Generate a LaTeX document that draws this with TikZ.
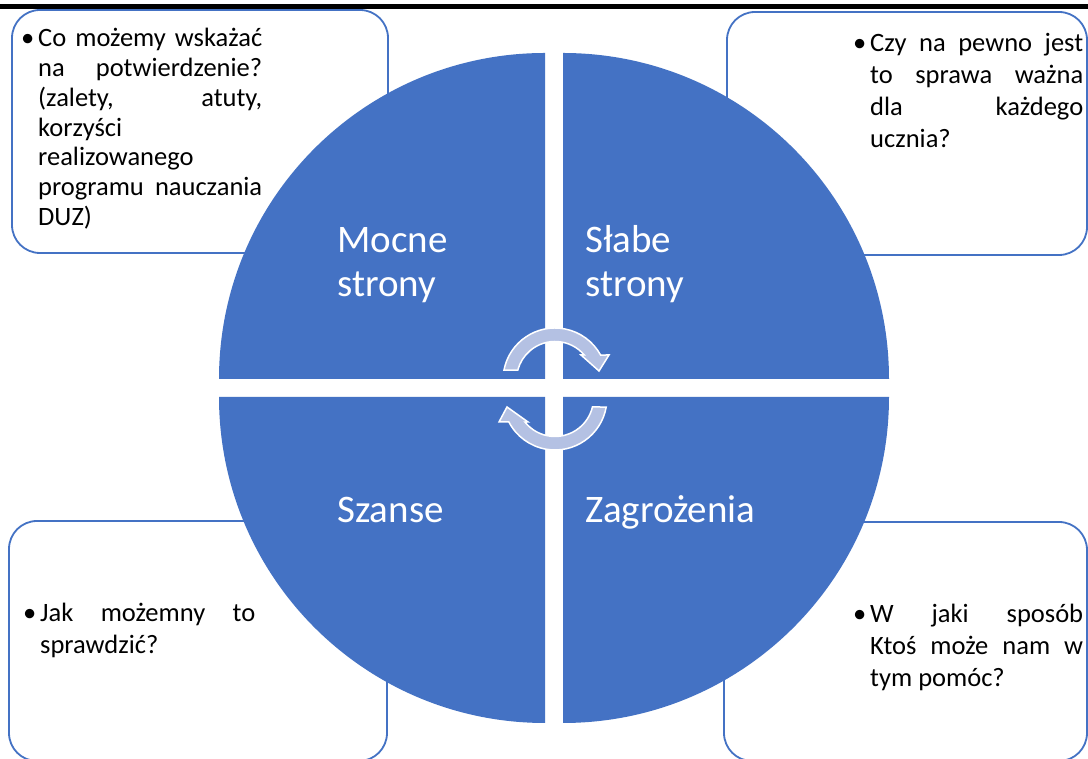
\documentclass[tikz,border=0pt]{standalone}
\usepackage{fontspec}
\setmainfont{Carlito}
\usetikzlibrary{calc,positioning}

\definecolor{swotblue}{HTML}{4472C4}
\definecolor{cycleblue}{HTML}{B4C1E3}

\begin{document}
\begin{tikzpicture}[x=1pt, y=1pt,
	box/.style={draw=swotblue, line width=1.8pt, rounded corners=28pt, inner sep=0pt},
	quarter/.style={fill=swotblue},
	quadtext/.style={text=white, font=\fontsize{39}{44}\selectfont, text width=170pt, align=left, inner sep=0pt, anchor=base west},
	boxtext/.style={font=\fontsize{26.5}{#1}\selectfont, align=justify, inner sep=0pt, anchor=base west},
	cyclearrow/.style={fill=cycleblue, draw=white, line width=1.5pt}]
	\fill [white] (0,0) rectangle (1088,759);
	\useasboundingbox (0,0) rectangle (1088,759);

	% Boxes {tl, tr, bl, br}
	\node [box, minimum width=376pt, minimum height=243pt] (tlbox) at (200,627.5) {};
	\node [box, minimum width=360pt, minimum height=243pt] (trbox) at (907,625.5) {};
	\node [box, minimum width=378pt, minimum height=240pt] (blbox) at (198,118) {};
	\node [box, minimum width=363pt, minimum height=239pt] (brbox) at (905.5,117.5) {};
	\fill (0,750) rectangle (1088,755);

	% Quarters of the circle
	\fill [quarter] (545,380) -- (219,380) arc [start angle=180, end angle=90, radius=326] -- cycle;
	\fill [quarter] (563,380) -- (563,706) arc [start angle=90, end angle=0, radius=326] -- cycle;
	\fill [quarter] (545,362) -- (219,362) arc [start angle=180, end angle=270, radius=326] -- cycle;
	\fill [quarter] (563,362) -- (889,362) arc [start angle=0, end angle=-90, radius=326] -- cycle;

	% Nodes {strengths, weaknesses, chances, threats}
	\node [quadtext] (strengths)  at (337,506) {Mocne\\strony};
	\node [quadtext] (weaknesses) at (585,506) {Słabe\\strony};
	\node [quadtext] (chances)    at (337,236) {Szanse};
	\node [quadtext] (threats)    at (585,236) {Zagrożenia};

	% Questions in the boxes
	\node [boxtext=29.7, text width=224pt] (tltext) at (38,712) {\llap{•\hspace{4pt}}Co\hfill możemy\hfill wskażać\\ na\hfill potwierdzenie?\\ (zalety,\hfill atuty,\\ korzyści\\ realizowanego\\ programu\hfill nauczania\\ DUZ)};
	\node [boxtext=32, text width=213pt] (trtext) at (870,707) {\llap{•\hspace{4pt}}Czy\hfill na\hfill pewno\hfill jest\\ to\hfill sprawa\hfill ważna\\ dla\hfill każdego\\ ucznia?};
	\node [boxtext=32, text width=215pt] (bltext) at (40,137) {\llap{•\hspace{4pt}}Jak\hfill możemny\hfill to\\ sprawdzić?};
	\node [boxtext=32, text width=213pt] (brtext) at (870,136) {\llap{•\hspace{4pt}}W\hfill jaki\hfill sposób\\ Ktoś\hfill może\hfill nam\hfill w\\ tym pomóc?};

	% Paths (the two round arrows)
	\coordinate (ucen) at (555,379);
	\coordinate (lcen) at (555,361);
	\filldraw [cyclearrow] ($(ucen)+(169:52)$) arc [start angle=169, end angle=28.7, radius=52]
		-- (609,404) -- (599,388) -- (581,404)
		-- ($(ucen)+(40.5:38.5)$) arc [start angle=40.5, end angle=165, radius=38.5] -- cycle;
	\filldraw [cyclearrow] ($(lcen)+(-10:52)$) arc [start angle=-10, end angle=-152.5, radius=52]
		-- (499,337) -- (507,352) -- (528,337)
		-- ($(lcen)+(-141.4:38.5)$) arc [start angle=-141.4, end angle=-13.5, radius=38.5] -- cycle;
\end{tikzpicture}
\end{document}
